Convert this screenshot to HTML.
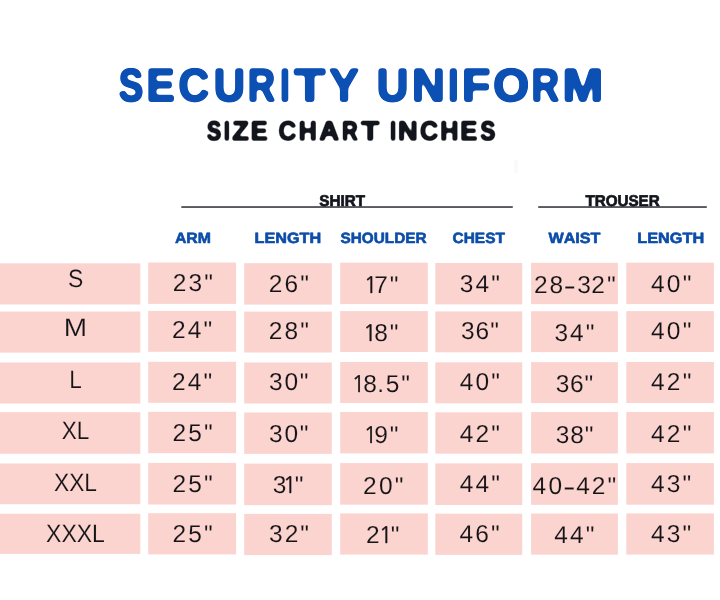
<!DOCTYPE html>
<html lang="en"><head><meta charset="utf-8"><title>Security Uniform Size Chart Inches</title>
<style>html,body{margin:0;padding:0;background:#fff}svg{display:block}text{font-family:"Liberation Sans",Arial,sans-serif;font-kerning:none;white-space:pre;text-rendering:geometricPrecision}</style></head><body>
<svg width="720" height="600" viewBox="0 0 720 600" role="img" aria-labelledby="chart-title chart-desc">
<title id="chart-title">SECURITY UNIFORM - SIZE CHART INCHES</title>
<desc id="chart-desc">Size chart in inches. SHIRT columns: ARM, LENGTH, SHOULDER, CHEST. TROUSER columns: WAIST, LENGTH. Rows: S, M, L, XL, XXL, XXXL.</desc>
<rect width="720" height="600" fill="#ffffff"/>
<defs>
<filter id="rt" filterUnits="userSpaceOnUse" x="100" y="50" width="520" height="64" color-interpolation-filters="sRGB"><feGaussianBlur in="SourceAlpha" stdDeviation="1.8"/><feComponentTransfer result="m"><feFuncA type="linear" slope="4.5" intercept="-1.75"/></feComponentTransfer><feFlood flood-color="#0c50b4"/><feComposite operator="in" in2="m"/></filter>
<filter id="rs" filterUnits="userSpaceOnUse" x="190" y="110" width="320" height="42" color-interpolation-filters="sRGB"><feGaussianBlur in="SourceAlpha" stdDeviation="1.0"/><feComponentTransfer result="m"><feFuncA type="linear" slope="2.5" intercept="-0.75"/></feComponentTransfer><feFlood flood-color="#13151d"/><feComposite operator="in" in2="m"/></filter>
</defs>
<g fill="#fbd4d0">
<rect x="0" y="263.3" width="140.3" height="41.2"/>
<rect x="148.2" y="262.5" width="87.9" height="41.4"/>
<rect x="244.2" y="263.2" width="87.6" height="41.4"/>
<rect x="340.2" y="262.7" width="87.6" height="41.4"/>
<rect x="435.3" y="263" width="86.9" height="41.4"/>
<rect x="531.1" y="262.8" width="86.8" height="41.4"/>
<rect x="626.3" y="262.7" width="87.6" height="41.4"/>
<rect x="0" y="311.5" width="140.3" height="41.1"/>
<rect x="148.2" y="310.9" width="87.9" height="40.9"/>
<rect x="244.2" y="311.6" width="87.6" height="40.9"/>
<rect x="340.2" y="311.1" width="87.6" height="40.9"/>
<rect x="435.3" y="311.4" width="86.9" height="40.9"/>
<rect x="531.1" y="311.2" width="86.8" height="40.9"/>
<rect x="626.3" y="311.1" width="87.6" height="40.9"/>
<rect x="0" y="362.5" width="140.3" height="41"/>
<rect x="148.2" y="361.8" width="87.9" height="41"/>
<rect x="244.2" y="362.5" width="87.6" height="41"/>
<rect x="340.2" y="362" width="87.6" height="41"/>
<rect x="435.3" y="362.3" width="86.9" height="41"/>
<rect x="531.1" y="362.1" width="86.8" height="41"/>
<rect x="626.3" y="362" width="87.6" height="41"/>
<rect x="0" y="412.2" width="140.3" height="41.6"/>
<rect x="148.2" y="411.8" width="87.9" height="41.4"/>
<rect x="244.2" y="412.5" width="87.6" height="41.4"/>
<rect x="340.2" y="412" width="87.6" height="41.4"/>
<rect x="435.3" y="412.3" width="86.9" height="41.4"/>
<rect x="531.1" y="412.1" width="86.8" height="41.4"/>
<rect x="626.3" y="412" width="87.6" height="41.4"/>
<rect x="0" y="463.5" width="140.3" height="40.7"/>
<rect x="148.2" y="462.9" width="87.9" height="41.6"/>
<rect x="244.2" y="463.6" width="87.6" height="41.6"/>
<rect x="340.2" y="463.1" width="87.6" height="41.6"/>
<rect x="435.3" y="463.4" width="86.9" height="41.6"/>
<rect x="531.1" y="463.2" width="86.8" height="41.6"/>
<rect x="626.3" y="463.1" width="87.6" height="41.6"/>
<rect x="0" y="513.75" width="140.3" height="40.15"/>
<rect x="148.2" y="513.2" width="87.9" height="41.2"/>
<rect x="244.2" y="513.9" width="87.6" height="41.2"/>
<rect x="340.2" y="513.4" width="87.6" height="41.2"/>
<rect x="435.3" y="513.7" width="86.9" height="41.2"/>
<rect x="531.1" y="513.5" width="86.8" height="41.2"/>
<rect x="626.3" y="513.4" width="87.6" height="41.2"/>
</g>
<text aria-label="SECURITY UNIFORM" y="100.55" font-size="46.22" font-weight="bold" fill="#0c50b4" stroke="#0c50b4" stroke-width="2.1" stroke-linejoin="round" filter="url(#rt)"><tspan x="118.74" textLength="24.55" lengthAdjust="spacingAndGlyphs">S</tspan><tspan x="146.52" textLength="28.18" lengthAdjust="spacingAndGlyphs">E</tspan><tspan x="178.61" textLength="30.71" lengthAdjust="spacingAndGlyphs">C</tspan><tspan x="213.65" textLength="31.24" lengthAdjust="spacingAndGlyphs">U</tspan><tspan x="247.71" textLength="27.42" lengthAdjust="spacingAndGlyphs">R</tspan><tspan x="279.98" textLength="9.84" lengthAdjust="spacingAndGlyphs">I</tspan><tspan x="294.23" textLength="30.86" lengthAdjust="spacingAndGlyphs">T</tspan><tspan x="329.29" textLength="29.57" lengthAdjust="spacingAndGlyphs">Y</tspan> <tspan x="376.72" textLength="31.6" lengthAdjust="spacingAndGlyphs">U</tspan><tspan x="412.01" textLength="32.8" lengthAdjust="spacingAndGlyphs">N</tspan><tspan x="448.1" textLength="10.61" lengthAdjust="spacingAndGlyphs">I</tspan><tspan x="461.95" textLength="28.29" lengthAdjust="spacingAndGlyphs">F</tspan><tspan x="493.36" textLength="35.82" lengthAdjust="spacingAndGlyphs">O</tspan><tspan x="531.39" textLength="27.65" lengthAdjust="spacingAndGlyphs">R</tspan><tspan x="562.59" textLength="40.62" lengthAdjust="spacingAndGlyphs">M</tspan></text>
<text aria-label="SIZE CHART INCHES" y="139.65" font-size="26.74" font-weight="bold" fill="#13151d" stroke="#13151d" stroke-width="1.5" stroke-linejoin="round" filter="url(#rs)"><tspan x="206.82" textLength="14.58" lengthAdjust="spacingAndGlyphs">S</tspan><tspan x="223.86" textLength="6.17" lengthAdjust="spacingAndGlyphs">I</tspan><tspan x="232.24" textLength="16.59" lengthAdjust="spacingAndGlyphs">Z</tspan><tspan x="250.86" textLength="16.88" lengthAdjust="spacingAndGlyphs">E</tspan> <tspan x="278.49" textLength="17.73" lengthAdjust="spacingAndGlyphs">C</tspan><tspan x="298.68" textLength="18.06" lengthAdjust="spacingAndGlyphs">H</tspan><tspan x="319.37" textLength="19.81" lengthAdjust="spacingAndGlyphs">A</tspan><tspan x="341.89" textLength="15.81" lengthAdjust="spacingAndGlyphs">R</tspan><tspan x="361.32" textLength="17.95" lengthAdjust="spacingAndGlyphs">T</tspan> <tspan x="389.96" textLength="6.17" lengthAdjust="spacingAndGlyphs">I</tspan><tspan x="398.13" textLength="19.65" lengthAdjust="spacingAndGlyphs">N</tspan><tspan x="420.12" textLength="18.11" lengthAdjust="spacingAndGlyphs">C</tspan><tspan x="440.37" textLength="18.18" lengthAdjust="spacingAndGlyphs">H</tspan><tspan x="460.33" textLength="17.12" lengthAdjust="spacingAndGlyphs">E</tspan><tspan x="480.19" textLength="15.25" lengthAdjust="spacingAndGlyphs">S</tspan></text>
<rect x="514" y="160" width="4" height="13" rx="2" fill="#fafafb"/>
<rect x="181.3" y="206.35" width="331.5" height="1.35" fill="#13151d"/>
<rect x="538.2" y="206.35" width="168.6" height="1.35" fill="#13151d"/>
<text transform="translate(319.31 205.65) scale(0.9817 1)" font-size="15.55" font-weight="bold" fill="#13151d" stroke="#13151d" stroke-width="0.7" stroke-linejoin="round">SHIRT</text>
<text transform="translate(585.38 205.65) scale(0.9782 1)" font-size="15.55" font-weight="bold" fill="#13151d" stroke="#13151d" stroke-width="0.7" stroke-linejoin="round">TROUSER</text>
<text transform="translate(174.91 242.5) scale(1.0678 1)" font-size="14.83" font-weight="bold" fill="#0b4da8" stroke="#0b4da8" stroke-width="0.6" stroke-linejoin="round">ARM</text>
<text transform="translate(254.52 242.5) scale(1.0924 1)" font-size="14.83" font-weight="bold" fill="#0b4da8" stroke="#0b4da8" stroke-width="0.6" stroke-linejoin="round">LENGTH</text>
<text transform="translate(340.46 242.5) scale(1.0344 1)" font-size="14.83" font-weight="bold" fill="#0b4da8" stroke="#0b4da8" stroke-width="0.6" stroke-linejoin="round">SHOULDER</text>
<text transform="translate(452.57 242.5) scale(1.0408 1)" font-size="14.83" font-weight="bold" fill="#0b4da8" stroke="#0b4da8" stroke-width="0.6" stroke-linejoin="round">CHEST</text>
<text transform="translate(548.38 242.5) scale(1.0906 1)" font-size="14.83" font-weight="bold" fill="#0b4da8" stroke="#0b4da8" stroke-width="0.6" stroke-linejoin="round">WAIST</text>
<text transform="translate(637.21 242.5) scale(1.0991 1)" font-size="14.83" font-weight="bold" fill="#0b4da8" stroke="#0b4da8" stroke-width="0.6" stroke-linejoin="round">LENGTH</text>
<g>
<text transform="translate(68.06 287.2) scale(0.9172 1)" font-size="25" font-weight="normal" fill="#141316" stroke="#fbd4d0" stroke-width="0.15">S</text>
<text x="172.87" y="290.8" font-size="24.5" letter-spacing="2.11" fill="#141316" stroke="#fbd4d0" stroke-width="0.12">23"</text>
<text x="268.87" y="291.9" font-size="24.5" letter-spacing="2.11" fill="#141316" stroke="#fbd4d0" stroke-width="0.12">26"</text>
<text y="292.7" font-size="24.5" fill="#141316" stroke="#fbd4d0" stroke-width="0.12"><tspan x="363.82" font-family="NanumGothic,'Liberation Sans',sans-serif" font-size="22.6" stroke="#141316" stroke-width="0.35">1</tspan><tspan x="374.24">7</tspan><tspan x="389.76">"</tspan></text>
<text x="459.73" y="291.6" font-size="24.5" letter-spacing="2.2" fill="#141316" stroke="#fbd4d0" stroke-width="0.12">34"</text>
<text y="292.75" font-size="24.5" fill="#141316" stroke="#fbd4d0" stroke-width="0.12"><tspan x="534.02">2</tspan><tspan x="549.54">8</tspan><tspan x="563.64" dy="1.4" textLength="12.41" lengthAdjust="spacingAndGlyphs">-</tspan><tspan x="577.17" dy="-1.4">3</tspan><tspan x="591.27">2</tspan><tspan x="607.06">"</tspan></text>
<text x="651.02" y="291.85" font-size="24.5" letter-spacing="2.2" fill="#141316" stroke="#fbd4d0" stroke-width="0.12">40"</text>
</g>
<g>
<text transform="translate(63.74 336) scale(1.1200 1)" font-size="25" font-weight="normal" fill="#141316" stroke="#fbd4d0" stroke-width="0.15">M</text>
<text x="171.98" y="338.3" font-size="24.5" letter-spacing="2.2" fill="#141316" stroke="#fbd4d0" stroke-width="0.12">24"</text>
<text x="268.68" y="339.25" font-size="24.5" letter-spacing="2.2" fill="#141316" stroke="#fbd4d0" stroke-width="0.12">28"</text>
<text y="341" font-size="24.5" fill="#141316" stroke="#fbd4d0" stroke-width="0.12"><tspan x="363.12" font-family="NanumGothic,'Liberation Sans',sans-serif" font-size="22.6" stroke="#141316" stroke-width="0.35">1</tspan><tspan x="374.24">8</tspan><tspan x="389.76">"</tspan></text>
<text x="460.97" y="338.95" font-size="24.5" letter-spacing="1.01" fill="#141316" stroke="#fbd4d0" stroke-width="0.12">36"</text>
<text x="554.57" y="340.8" font-size="24.5" letter-spacing="1.91" fill="#141316" stroke="#fbd4d0" stroke-width="0.12">34"</text>
<text x="651.02" y="338.95" font-size="24.5" letter-spacing="2.2" fill="#141316" stroke="#fbd4d0" stroke-width="0.12">40"</text>
</g>
<g>
<text transform="translate(69.24 388) scale(0.9000 1)" font-size="25" font-weight="normal" fill="#141316" stroke="#fbd4d0" stroke-width="0.15">L</text>
<text x="171.98" y="389.85" font-size="24.5" letter-spacing="2.2" fill="#141316" stroke="#fbd4d0" stroke-width="0.12">24"</text>
<text x="268.97" y="390.3" font-size="24.5" letter-spacing="1.81" fill="#141316" stroke="#fbd4d0" stroke-width="0.12">30"</text>
<text y="391.8" font-size="24.5" fill="#141316" stroke="#fbd4d0" stroke-width="0.12"><tspan x="351.52" font-family="NanumGothic,'Liberation Sans',sans-serif" font-size="22.6" stroke="#141316" stroke-width="0.35">1</tspan><tspan x="363.34">8</tspan><tspan x="377.16">.</tspan><tspan x="385.72">5</tspan><tspan x="401.16">"</tspan></text>
<text x="459.67" y="389.85" font-size="24.5" letter-spacing="2.2" fill="#141316" stroke="#fbd4d0" stroke-width="0.12">40"</text>
<text x="555.68" y="391.5" font-size="24.5" letter-spacing="0.8" fill="#141316" stroke="#fbd4d0" stroke-width="0.12">36"</text>
<text x="651.02" y="390.15" font-size="24.5" letter-spacing="2.2" fill="#141316" stroke="#fbd4d0" stroke-width="0.12">42"</text>
</g>
<g>
<text transform="translate(61.81 439.1) scale(0.9000 1)" font-size="25" font-weight="normal" fill="#141316" stroke="#fbd4d0" stroke-width="0.15">XL</text>
<text x="172.38" y="440.95" font-size="24.5" letter-spacing="2.2" fill="#141316" stroke="#fbd4d0" stroke-width="0.12">25"</text>
<text x="268.97" y="441.6" font-size="24.5" letter-spacing="1.81" fill="#141316" stroke="#fbd4d0" stroke-width="0.12">30"</text>
<text y="442.7" font-size="24.5" fill="#141316" stroke="#fbd4d0" stroke-width="0.12"><tspan x="363.42" font-family="NanumGothic,'Liberation Sans',sans-serif" font-size="22.6" stroke="#141316" stroke-width="0.35">1</tspan><tspan x="374.15">9</tspan><tspan x="389.76">"</tspan></text>
<text x="459.67" y="441.5" font-size="24.5" letter-spacing="2.2" fill="#141316" stroke="#fbd4d0" stroke-width="0.12">42"</text>
<text x="555.87" y="442.8" font-size="24.5" letter-spacing="0.86" fill="#141316" stroke="#fbd4d0" stroke-width="0.12">38"</text>
<text x="651.02" y="441.5" font-size="24.5" letter-spacing="2.2" fill="#141316" stroke="#fbd4d0" stroke-width="0.12">42"</text>
</g>
<g>
<text transform="translate(54.09 491) scale(0.9071 1)" font-size="25" font-weight="normal" fill="#141316" stroke="#fbd4d0" stroke-width="0.15">XXL</text>
<text x="172.38" y="491.6" font-size="24.5" letter-spacing="2.2" fill="#141316" stroke="#fbd4d0" stroke-width="0.12">25"</text>
<text y="492.7" font-size="24.5" fill="#141316" stroke="#fbd4d0" stroke-width="0.12"><tspan x="272.77">3</tspan><tspan x="282.72" font-family="NanumGothic,'Liberation Sans',sans-serif" font-size="22.6" stroke="#141316" stroke-width="0.35">1</tspan><tspan x="294.76">"</tspan></text>
<text x="363.08" y="493.5" font-size="24.5" letter-spacing="2.2" fill="#141316" stroke="#fbd4d0" stroke-width="0.12">20"</text>
<text x="459.67" y="492.15" font-size="24.5" letter-spacing="2.2" fill="#141316" stroke="#fbd4d0" stroke-width="0.12">44"</text>
<text y="493.75" font-size="24.5" fill="#141316" stroke="#fbd4d0" stroke-width="0.12"><tspan x="532.54">4</tspan><tspan x="548.44">0</tspan><tspan x="563.13" dy="1.4" textLength="12.55" lengthAdjust="spacingAndGlyphs">-</tspan><tspan x="576.34" dy="-1.4">4</tspan><tspan x="591.87">2</tspan><tspan x="607.56">"</tspan></text>
<text x="650.94" y="492.3" font-size="24.5" letter-spacing="2.13" fill="#141316" stroke="#fbd4d0" stroke-width="0.12">43"</text>
</g>
<g>
<text transform="translate(46.08 542) scale(0.9195 1)" font-size="25" font-weight="normal" fill="#141316" stroke="#fbd4d0" stroke-width="0.15">XXXL</text>
<text x="172.38" y="541.6" font-size="24.5" letter-spacing="2.2" fill="#141316" stroke="#fbd4d0" stroke-width="0.12">25"</text>
<text x="268.97" y="542.15" font-size="24.5" letter-spacing="2.06" fill="#141316" stroke="#fbd4d0" stroke-width="0.12">32"</text>
<text y="542.7" font-size="24.5" fill="#141316" stroke="#fbd4d0" stroke-width="0.12"><tspan x="366.07">2</tspan><tspan x="378.72" font-family="NanumGothic,'Liberation Sans',sans-serif" font-size="22.6" stroke="#141316" stroke-width="0.35">1</tspan><tspan x="390.76">"</tspan></text>
<text x="459.44" y="541.6" font-size="24.5" letter-spacing="2.18" fill="#141316" stroke="#fbd4d0" stroke-width="0.12">46"</text>
<text x="554.17" y="542.8" font-size="24.5" letter-spacing="2.2" fill="#141316" stroke="#fbd4d0" stroke-width="0.12">44"</text>
<text x="650.94" y="542.15" font-size="24.5" letter-spacing="2.13" fill="#141316" stroke="#fbd4d0" stroke-width="0.12">43"</text>
</g>
</svg></body></html>
